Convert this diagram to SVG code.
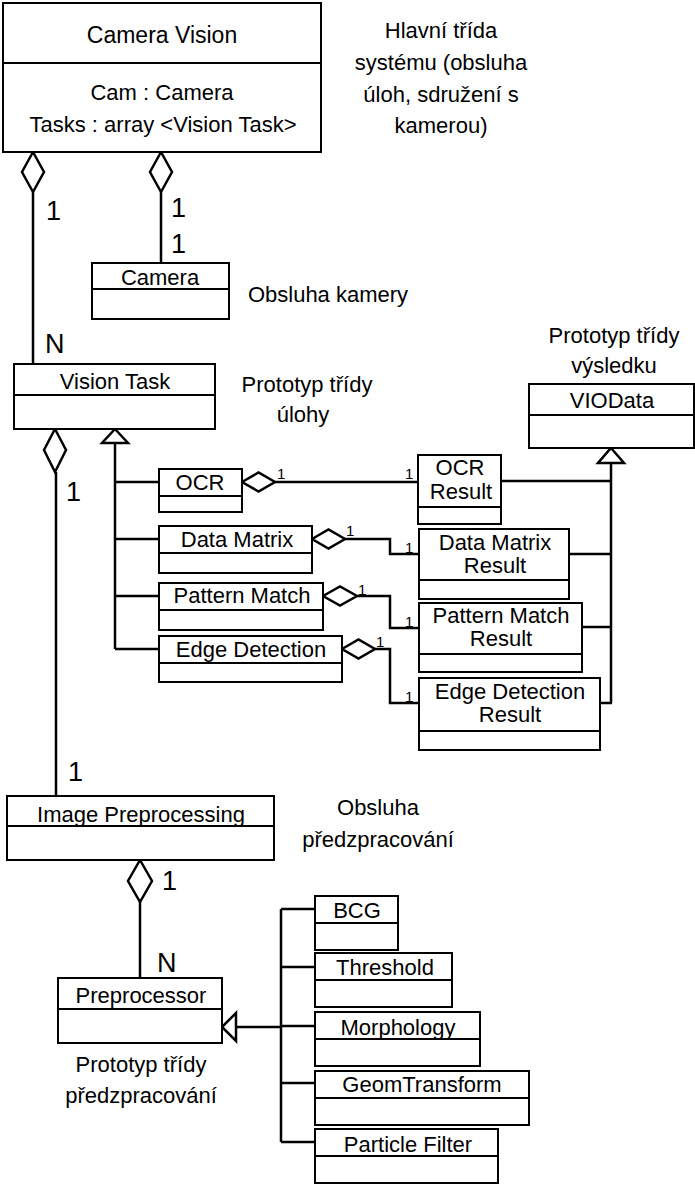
<svg xmlns="http://www.w3.org/2000/svg" width="695" height="1185" viewBox="0 0 695 1185">
<style>
.box{fill:#fff;stroke:#000;stroke-width:2}
.ln{fill:none;stroke:#000;stroke-width:2.5}
.dv{fill:none;stroke:#000;stroke-width:2}
.dia{fill:#fff;stroke:#000;stroke-width:2.5}
.t{font-family:"Liberation Sans",Arial,sans-serif;font-size:22px;fill:#000;text-anchor:middle}
.a{font-family:"Liberation Sans",Arial,sans-serif;font-size:22px;fill:#000;text-anchor:middle}
.m{font-family:"Liberation Sans",Arial,sans-serif;font-size:27px;fill:#000}
.s{font-family:"Liberation Sans",Arial,sans-serif;font-size:15px;fill:#000}
</style>
<rect width="695" height="1185" fill="#fff"/>

<g id="connectors">
  <line class="ln" x1="33" y1="192" x2="33" y2="364"/>
  <polygon class="dia" points="33,152 44,172 33,192 22,172"/>
  <line class="ln" x1="161" y1="192" x2="161" y2="263"/>
  <polygon class="dia" points="161,152 172,172 161,192 150,172"/>
  <line class="ln" x1="56" y1="472" x2="56" y2="796"/>
  <polygon class="dia" points="55,429 66,450 55,472 44,450"/>
  <polyline class="ln" points="115,443 115,649"/>
  <line class="ln" x1="115" y1="482" x2="159" y2="482"/>
  <line class="ln" x1="115" y1="539" x2="159" y2="539"/>
  <line class="ln" x1="115" y1="596" x2="159" y2="596"/>
  <line class="ln" x1="115" y1="649" x2="159" y2="649"/>
  <polygon class="dia" points="115,429 128,443 102,443"/>
  <polyline class="ln" points="275,482 418,482"/>
  <polygon class="dia" points="242,482 258.5,472.5 275,482 258.5,491.5"/>
  <polyline class="ln" points="345,539 390,539 390,554 419,554"/>
  <polygon class="dia" points="312,539 328.5,529.5 345,539 328.5,548.5"/>
  <polyline class="ln" points="357,596 390,596 390,628 419,628"/>
  <polygon class="dia" points="323,596 340,586.5 357,596 340,605.5"/>
  <polyline class="ln" points="375,649 390,649 390,703 419,703"/>
  <polygon class="dia" points="342,649 358.5,639.5 375,649 358.5,658.5"/>
  <line class="ln" x1="611" y1="463" x2="611" y2="703"/>
  <line class="ln" x1="501" y1="481" x2="611" y2="481"/>
  <line class="ln" x1="569" y1="554" x2="611" y2="554"/>
  <line class="ln" x1="582" y1="627" x2="611" y2="627"/>
  <line class="ln" x1="600" y1="703" x2="612" y2="703"/>
  <polygon class="dia" points="611,448 624,463 598,463"/>
  <line class="ln" x1="140" y1="902" x2="140" y2="978"/>
  <polygon class="dia" points="140,860 152,881 140,902 128,881"/>
  <line class="ln" x1="236" y1="1027" x2="281" y2="1027"/>
  <line class="ln" x1="281" y1="909" x2="281" y2="1142"/>
  <line class="ln" x1="281" y1="909" x2="315" y2="909"/>
  <line class="ln" x1="281" y1="967" x2="315" y2="967"/>
  <line class="ln" x1="281" y1="1026" x2="315" y2="1026"/>
  <line class="ln" x1="281" y1="1083" x2="315" y2="1083"/>
  <line class="ln" x1="281" y1="1142" x2="315" y2="1142"/>
  <polygon class="dia" points="222,1027 236,1013 236,1041"/>
  <text class="m" x="46" y="220">1</text>
  <text class="m" x="171" y="217">1</text>
  <text class="m" x="171" y="253">1</text>
  <text class="m" x="45" y="353">N</text>
  <text class="m" x="66" y="501">1</text>
  <text class="m" x="68" y="781">1</text>
  <text class="m" x="162" y="890">1</text>
  <text class="m" x="157" y="972">N</text>
  <text class="s" x="277" y="479">1</text>
  <text class="s" x="405" y="479">1</text>
  <text class="s" x="346" y="536">1</text>
  <text class="s" x="405" y="553">1</text>
  <text class="s" x="358" y="595">1</text>
  <text class="s" x="405" y="627">1</text>
  <text class="s" x="376" y="647">1</text>
  <text class="s" x="405" y="702">1</text>
</g>

<g id="camera-vision">
  <rect class="box" x="3" y="3" width="318" height="149"/>
  <line class="dv" x1="3" y1="63" x2="321" y2="63"/>
  <text class="t" x="162" y="43" style="font-size:23px">Camera Vision</text>
  <text class="t" x="162" y="100">Cam : Camera</text>
  <text class="t" x="163" y="132">Tasks : array &lt;Vision Task&gt;</text>
</g>
<g id="note-main">
  <text class="a" x="441" y="38">Hlavní třída</text>
  <text class="a" x="441" y="70">systému (obsluha</text>
  <text class="a" x="441" y="102">úloh, sdružení s</text>
  <text class="a" x="441" y="133">kamerou)</text>
</g>

<g id="camera">
  <rect class="box" x="92" y="263" width="137" height="56"/>
  <line class="dv" x1="92" y1="289" x2="229" y2="289"/>
  <text class="t" x="160" y="285">Camera</text>
</g>
<g id="note-camera"><text class="a" x="328" y="302">Obsluha kamery</text></g>

<g id="vision-task">
  <rect class="box" x="14" y="364" width="201" height="65"/>
  <line class="dv" x1="14" y1="395" x2="215" y2="395"/>
  <text class="t" x="115" y="389">Vision Task</text>
</g>
<g id="note-task">
  <text class="a" x="307" y="392">Prototyp třídy</text>
  <text class="a" x="303" y="422">úlohy</text>
</g>

<g id="viodata">
  <rect class="box" x="529" y="384" width="165" height="64"/>
  <line class="dv" x1="529" y1="415" x2="694" y2="415"/>
  <text class="t" x="612" y="408">VIOData</text>
</g>
<g id="note-result">
  <text class="a" x="614" y="343">Prototyp třídy</text>
  <text class="a" x="614" y="373">výsledku</text>
</g>

<g id="ocr">
  <rect class="box" x="159" y="469" width="83" height="43"/>
  <line class="dv" x1="159" y1="496" x2="242" y2="496"/>
  <text class="t" x="200" y="490">OCR</text>
</g>
<g id="data-matrix">
  <rect class="box" x="159" y="526" width="153" height="47"/>
  <line class="dv" x1="159" y1="553" x2="312" y2="553"/>
  <text class="t" x="237" y="547">Data Matrix</text>
</g>
<g id="pattern-match">
  <rect class="box" x="159" y="583" width="164" height="47"/>
  <line class="dv" x1="159" y1="610" x2="323" y2="610"/>
  <text class="t" x="242" y="603">Pattern Match</text>
</g>
<g id="edge-detection">
  <rect class="box" x="159" y="636" width="183" height="46"/>
  <line class="dv" x1="159" y1="663" x2="342" y2="663"/>
  <text class="t" x="251" y="657">Edge Detection</text>
</g>

<g id="ocr-result">
  <rect class="box" x="418" y="455" width="83" height="69"/>
  <line class="dv" x1="418" y1="507" x2="501" y2="507"/>
  <text class="t" x="460" y="475">OCR</text>
  <text class="t" x="461" y="499">Result</text>
</g>
<g id="data-matrix-result">
  <rect class="box" x="419" y="529" width="150" height="70"/>
  <line class="dv" x1="419" y1="580" x2="569" y2="580"/>
  <text class="t" x="495" y="550">Data Matrix</text>
  <text class="t" x="495" y="573">Result</text>
</g>
<g id="pattern-match-result">
  <rect class="box" x="419" y="603" width="163" height="69"/>
  <line class="dv" x1="419" y1="654" x2="582" y2="654"/>
  <text class="t" x="501" y="623">Pattern Match</text>
  <text class="t" x="501" y="646">Result</text>
</g>
<g id="edge-detection-result">
  <rect class="box" x="419" y="678" width="181" height="72"/>
  <line class="dv" x1="419" y1="731" x2="600" y2="731"/>
  <text class="t" x="510" y="699">Edge Detection</text>
  <text class="t" x="510" y="722">Result</text>
</g>

<g id="image-preprocessing">
  <rect class="box" x="7" y="796" width="267" height="64"/>
  <line class="dv" x1="7" y1="826" x2="274" y2="826"/>
  <text class="t" x="141" y="822">Image Preprocessing</text>
</g>
<g id="note-preproc">
  <text class="a" x="378" y="815">Obsluha</text>
  <text class="a" x="378" y="847">předzpracování</text>
</g>

<g id="preprocessor">
  <rect class="box" x="58" y="978" width="164" height="65"/>
  <line class="dv" x1="58" y1="1009" x2="222" y2="1009"/>
  <text class="t" x="141" y="1003">Preprocessor</text>
</g>
<g id="note-preprocessor">
  <text class="a" x="141" y="1072">Prototyp třídy</text>
  <text class="a" x="141" y="1103">předzpracování</text>
</g>

<g id="bcg">
  <rect class="box" x="315" y="896" width="83" height="54"/>
  <line class="dv" x1="315" y1="923" x2="398" y2="923"/>
  <text class="t" x="357" y="918">BCG</text>
</g>
<g id="threshold">
  <rect class="box" x="315" y="953" width="137" height="54"/>
  <line class="dv" x1="315" y1="980" x2="452" y2="980"/>
  <text class="t" x="385" y="975">Threshold</text>
</g>
<g id="morphology">
  <rect class="box" x="315" y="1012" width="165" height="54"/>
  <line class="dv" x1="315" y1="1039" x2="480" y2="1039"/>
  <text class="t" x="398" y="1035">Morphology</text>
</g>
<g id="geomtransform">
  <rect class="box" x="315" y="1071" width="214" height="54"/>
  <line class="dv" x1="315" y1="1098" x2="529" y2="1098"/>
  <text class="t" x="422" y="1092">GeomTransform</text>
</g>
<g id="particle-filter">
  <rect class="box" x="315" y="1129" width="183" height="54"/>
  <line class="dv" x1="315" y1="1156" x2="498" y2="1156"/>
  <text class="t" x="408" y="1152">Particle Filter</text>
</g>
</svg>
